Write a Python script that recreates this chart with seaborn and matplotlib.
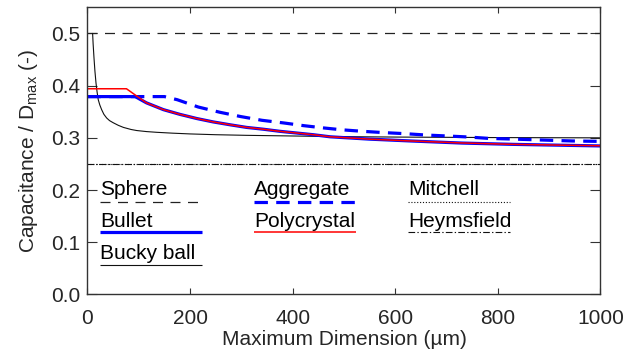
import matplotlib
matplotlib.use("Agg")
import matplotlib.pyplot as plt
import seaborn as sns
import pandas as pd

# ---------------- data ----------------
sphere_x = [0, 1000]
sphere_y = [0.5, 0.5]

bullet_x = [0, 93, 115, 148, 180, 213, 245, 278, 310, 343, 375, 410, 440, 473,
            550, 630, 730, 830, 1000]
bullet_y = [0.379, 0.379, 0.367, 0.354, 0.345, 0.337, 0.3305, 0.325, 0.320,
            0.3165, 0.3125, 0.309, 0.306, 0.302, 0.2975, 0.294, 0.290, 0.2875,
            0.2845]

bucky_x = [10, 11, 12.7, 14.5, 16.6, 18.7, 21, 24, 27.6, 32, 37.4, 43, 50, 60,
           70, 85, 96, 115, 135, 165, 200, 250, 310, 390, 473, 600, 800, 1000]
bucky_y = [0.5, 0.48, 0.453, 0.428, 0.405, 0.388, 0.373, 0.363, 0.354, 0.345,
           0.338, 0.333, 0.329, 0.324, 0.320, 0.316, 0.314, 0.312, 0.3106,
           0.309, 0.3075, 0.306, 0.3048, 0.3037, 0.3025, 0.3015, 0.3005, 0.300]

aggregate_x = [0, 150, 175, 216, 258, 299, 340, 382, 421, 460, 496, 536, 578,
               619, 658, 700, 741, 781, 824, 866, 906, 945, 1000]
aggregate_y = [0.379, 0.379, 0.373, 0.359, 0.349, 0.3407, 0.3336, 0.3286,
               0.3234, 0.319, 0.3154, 0.3125, 0.310, 0.308, 0.3055, 0.3036,
               0.3017, 0.299, 0.2978, 0.2965, 0.2952, 0.294, 0.2932]

poly_x = [0, 76, 99, 115, 148, 180, 213, 245, 278, 310, 343, 375, 410, 440,
          473, 550, 630, 730, 830, 1000]
poly_y = [0.394, 0.394, 0.378, 0.367, 0.354, 0.345, 0.337, 0.3305, 0.325,
          0.320, 0.3165, 0.3125, 0.309, 0.306, 0.302, 0.2975, 0.294, 0.2902,
          0.2875, 0.2848]

mitchell_x = [0, 1000]
mitchell_y = [0.25, 0.25]

heymsfield_x = [0, 1000]
heymsfield_y = [0.25, 0.25]

x_ticks = [0, 200, 400, 600, 800, 1000]
y_ticks = [0.0, 0.1, 0.2, 0.3, 0.4, 0.5]
y_tick_labels = ["0.0", "0.1", "0.2", "0.3", "0.4", "0.5"]

# ---------------- style ----------------
sns.set_style("ticks")
plt.rcParams["font.family"] = ["Liberation Sans", "DejaVu Sans"]
plt.rcParams["mathtext.fontset"] = "custom"
plt.rcParams["mathtext.rm"] = "Liberation Sans"
FS = 15

fig = plt.figure(figsize=(6.28, 3.58), dpi=100)
ax = fig.add_axes([0.1393, 0.1774, 0.8169, 0.8022])

BLUE = "#0000ff"
RED = "#ff0000"

styles = {
    "Sphere": dict(color="#222222", lw=0.9, ls=(0, (8, 6))),
    "Bullet": dict(color=BLUE, lw=2.3, ls="-"),
    "Bucky ball": dict(color="#111111", lw=0.8, ls="-"),
    "Aggregate": dict(color=BLUE, lw=2.3, ls=(0, (4.2, 2.6))),
    "Polycrystal": dict(color=RED, lw=1.1, ls="-"),
    "Mitchell": dict(color="#111111", lw=0.8, ls=(0, (1, 1.6))),
    "Heymsfield": dict(color="#111111", lw=0.8, ls=(0, (6, 2, 1.2, 2))),
}

series = [
    ("Sphere", sphere_x, sphere_y),
    ("Mitchell", mitchell_x, mitchell_y),
    ("Heymsfield", heymsfield_x, heymsfield_y),
    ("Bucky ball", bucky_x, bucky_y),
    ("Aggregate", aggregate_x, aggregate_y),
    ("Bullet", bullet_x, bullet_y),
    ("Polycrystal", poly_x, poly_y),
]

for name, xs, ys in series:
    st = styles[name]
    df = pd.DataFrame({"D": xs, "C": ys})
    sns.lineplot(data=df, x="D", y="C", ax=ax, color=st["color"],
                 linewidth=st["lw"], linestyle=st["ls"], legend=False,
                 estimator=None, sort=False)

ax.set_xlim(0, 1000)
ax.set_ylim(0, 0.55)
ax.set_xticks(x_ticks)
ax.set_xticklabels([str(v) for v in x_ticks])
ax.set_yticks(y_ticks)
ax.set_yticklabels(y_tick_labels)

ax.tick_params(axis="x", which="both", direction="in", top=True, bottom=True,
               length=4.2, width=0.8, pad=10.5, labelsize=FS, color="#333333")
ax.tick_params(axis="y", which="both", direction="in", left=True, right=True,
               length=7.5, width=0.8, pad=5.4, labelsize=FS, color="#333333")
for sp in ax.spines.values():
    sp.set_visible(True)
    sp.set_color("#333333")
    sp.set_linewidth(1.0)

ax.set_xlabel("Maximum Dimension (\u00b5m)", fontsize=FS, labelpad=1.5)
ax.set_ylabel("Capacitance / D$_{\\mathregular{max}}$ (-)", fontsize=FS,
              labelpad=7.5)

# ---------------- legend (text above line sample) ----------------
col_x = [0.0244, 0.3246, 0.6248]
row_text_y = [0.3465, 0.2361, 0.1226]
row_line_y = [0.3231, 0.2166, 0.1027]
sample_len = 0.1988
layout = [
    ("Sphere", 0, 0), ("Bullet", 0, 1), ("Bucky ball", 0, 2),
    ("Aggregate", 1, 0), ("Polycrystal", 1, 1),
    ("Mitchell", 2, 0), ("Heymsfield", 2, 1),
]
for name, c, r in layout:
    st = styles[name]
    ax.text(col_x[c], row_text_y[r], name, transform=ax.transAxes,
            fontsize=FS, ha="left", va="baseline", color="black")
    ax.plot([col_x[c], col_x[c] + sample_len], [row_line_y[r], row_line_y[r]],
            transform=ax.transAxes, color=st["color"], lw=st["lw"],
            ls=st["ls"], solid_capstyle="butt", dash_capstyle="butt")

fig.savefig("out.png", dpi=100)
